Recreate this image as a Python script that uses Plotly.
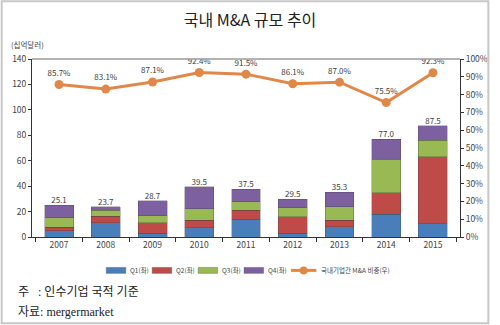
import plotly.graph_objects as go

years = ["2007", "2008", "2009", "2010", "2011", "2012", "2013", "2014", "2015"]
q1 = [5.0, 11.2, 2.8, 7.2, 13.8, 3.0, 8.0, 17.9, 10.4]
q2 = [2.5, 5.2, 8.4, 6.0, 7.3, 12.9, 5.2, 17.1, 52.7]
q3 = [7.5, 4.7, 5.7, 9.2, 6.6, 7.3, 10.5, 26.0, 13.1]
q4 = [10.1, 2.6, 11.8, 17.1, 9.8, 6.3, 11.6, 16.0, 11.3]
totals = [25.1, 23.7, 28.7, 39.5, 37.5, 29.5, 35.3, 77.0, 87.5]
domestic_share = [85.7, 83.1, 87.1, 92.4, 91.5, 86.1, 87.0, 75.5, 92.3]

series_names = ["Q1(좌)", "Q2(좌)", "Q3(좌)", "Q4(좌)"]
line_name = "국내기업간 M&A 비중(우)"
series_colors = ["#4A7EBB", "#BE4B48", "#98B954", "#7D60A0"]
line_color = "#E0884A"
font_main = "Noto Sans CJK KR, Noto Sans, sans-serif"
font_serif = "Liberation Serif, Noto Sans CJK KR, serif"

fig = go.Figure()

for name, vals, col in zip(series_names, [q1, q2, q3, q4], series_colors):
    fig.add_trace(go.Bar(
        x=years, y=vals, name=name, showlegend=False,
        marker=dict(color=col, line=dict(color="rgba(60,60,60,0.5)", width=0.6)),
        width=0.62,
    ))

# total labels above each stack
fig.add_trace(go.Scatter(
    x=years, y=totals, mode="text", text=[f"{v:.1f}" for v in totals],
    textposition="top center", showlegend=False, hoverinfo="skip",
    textfont=dict(size=8, color="#404040", family=font_main),
))

fig.add_trace(go.Scatter(
    x=years, y=domestic_share, name=line_name, yaxis="y2", showlegend=False,
    mode="lines+markers+text", text=[f"{v:.1f}%" for v in domestic_share],
    textposition="top center",
    textfont=dict(size=8, color="#404040", family=font_main),
    line=dict(color=line_color, width=3),
    marker=dict(color=line_color, size=9),
))

W, H = 500, 325
ml, mr, mt, mb = 32, 30, 59, 87.5
pw, ph = W - ml - mr, H - mt - mb
bottom = mt + ph


def px_x(px):
    return (px - ml) / pw


def px_y(py):
    return (bottom - py) / ph


annotations = [
    dict(text="(십억달러)", xref="paper", yref="paper", x=px_x(8), y=px_y(44),
         xanchor="left", yanchor="middle", showarrow=False, font=dict(size=7.5, color="#444444")),
    dict(text="주   : 인수기업 국적 기준", xref="paper", yref="paper", x=px_x(16),
         y=px_y(293), xanchor="left", yanchor="middle", showarrow=False,
         font=dict(size=12, color="#222222", family=font_serif)),
    dict(text="자료: mergermarket", xref="paper", yref="paper", x=px_x(16),
         y=px_y(313), xanchor="left", yanchor="middle", showarrow=False,
         font=dict(size=12, color="#222222", family=font_serif)),
]
shapes = [
    dict(type="line", xref="paper", yref="paper", x0=0, x1=1, y0=1, y1=1,
         line=dict(color="#9a9a9a", width=1.5)),
    dict(type="rect", xref="paper", yref="paper",
         x0=px_x(1), x1=px_x(W - 1), y0=px_y(H - 1), y1=px_y(1),
         line=dict(color="#c8c8c8", width=2)),
]

# legend row
leg_y = 271
leg_font = dict(size=6.5, color="#444444", family=font_main)
for i, (name, col) in enumerate(zip(series_names, series_colors)):
    x0 = 108 + i * 47
    shapes.append(dict(type="rect", xref="paper", yref="paper",
                       x0=px_x(x0), x1=px_x(x0 + 20), y0=px_y(leg_y + 3), y1=px_y(leg_y - 3),
                       fillcolor=col, line=dict(color="rgba(60,60,60,0.5)", width=0.6)))
    annotations.append(dict(text=name, xref="paper", yref="paper", x=px_x(x0 + 22), y=px_y(leg_y),
                            xanchor="left", yanchor="middle", showarrow=False, font=leg_font))
shapes.append(dict(type="line", xref="paper", yref="paper", x0=px_x(297), x1=px_x(323),
                   y0=px_y(leg_y), y1=px_y(leg_y), line=dict(color=line_color, width=3)))
shapes.append(dict(type="circle", xref="paper", yref="paper", x0=px_x(306), x1=px_x(314),
                   y0=px_y(leg_y + 4), y1=px_y(leg_y - 4), fillcolor=line_color,
                   line=dict(color=line_color, width=0)))
annotations.append(dict(text=line_name, xref="paper", yref="paper", x=px_x(326), y=px_y(leg_y),
                        xanchor="left", yanchor="middle", showarrow=False, font=leg_font))

fig.update_layout(
    width=W, height=H, barmode="stack",
    margin=dict(l=ml, r=mr, t=mt, b=mb),
    paper_bgcolor="white", plot_bgcolor="white", showlegend=False,
    font=dict(family=font_main, size=8, color="#333333"),
    title=dict(text="국내 M&A 규모 추이", x=0.5, xanchor="center",
               y=1 - 20 / H, yanchor="middle",
               font=dict(size=16, color="#222222", family=font_main)),
    xaxis=dict(type="category", showline=True, linecolor="#333333", linewidth=1,
               ticks="outside", tickson="boundaries", ticklen=4, tickcolor="#333333",
               tickfont=dict(size=8.5, color="#444444"), showgrid=False),
    yaxis=dict(range=[0, 140], dtick=20, showline=True, linecolor="#333333", linewidth=1,
               ticks="outside", ticklen=3, tickcolor="#333333", showgrid=False,
               zeroline=False, tickfont=dict(size=8.5, color="#444444")),
    yaxis2=dict(range=[0, 100], dtick=10, overlaying="y", side="right", ticksuffix="%",
                showline=True, linecolor="#333333", linewidth=1, ticks="outside",
                ticklen=3, tickcolor="#333333", showgrid=False, zeroline=False,
                tickfont=dict(size=8.5, color="#444444")),
    annotations=annotations,
    shapes=shapes,
)

fig.write_html("out.html")
